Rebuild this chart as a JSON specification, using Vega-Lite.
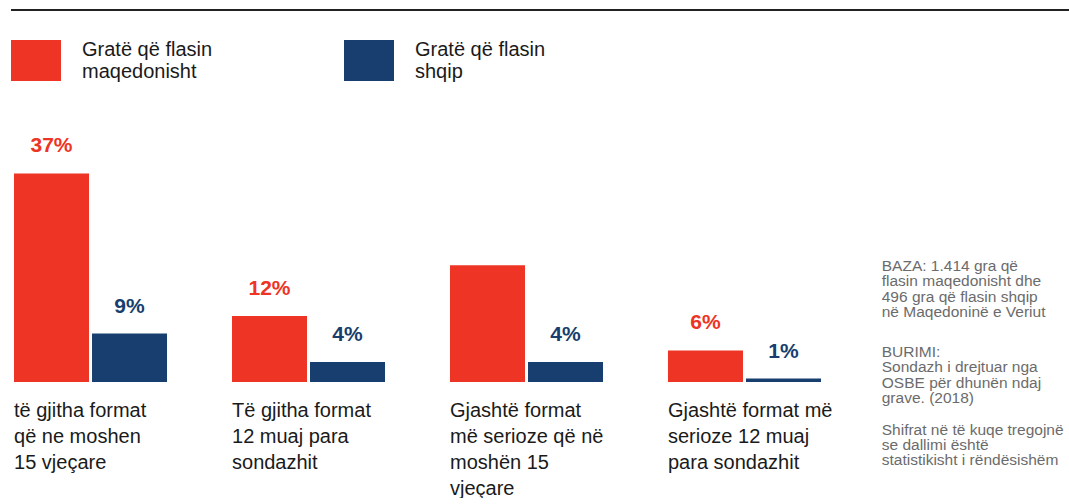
{
  "$schema": "https://vega.github.io/schema/vega-lite/v6.json",
  "width": 1059,
  "height": 372,
  "padding": {"left": 10, "top": 9, "right": 0, "bottom": 0},
  "background": "white",
  "config": {
    "view": {"stroke": null},
    "font": "Liberation Sans"
  },
  "data": {
    "values": [
      {"category": "të gjitha format\nqë ne moshen\n15 vjeçare", "group": "Gratë që flasin\nmaqedonisht", "value": 37, "label": "37%"},
      {"category": "të gjitha format\nqë ne moshen\n15 vjeçare", "group": "Gratë që flasin\nshqip", "value": 8.6, "label": "9%"},
      {"category": "Të gjitha format\n12 muaj para\nsondazhit", "group": "Gratë që flasin\nmaqedonisht", "value": 11.7, "label": "12%"},
      {"category": "Të gjitha format\n12 muaj para\nsondazhit", "group": "Gratë që flasin\nshqip", "value": 3.55, "label": "4%"},
      {"category": "Gjashtë format\nmë serioze që në\nmoshën 15\nvjeçare", "group": "Gratë që flasin\nmaqedonisht", "value": 20.7, "label": ""},
      {"category": "Gjashtë format\nmë serioze që në\nmoshën 15\nvjeçare", "group": "Gratë që flasin\nshqip", "value": 3.55, "label": "4%"},
      {"category": "Gjashtë format më\nserioze 12 muaj\npara sondazhit", "group": "Gratë që flasin\nmaqedonisht", "value": 5.6, "label": "6%"},
      {"category": "Gjashtë format më\nserioze 12 muaj\npara sondazhit", "group": "Gratë që flasin\nshqip", "value": 0.6, "label": "1%"}
    ]
  },
  "layer": [
    {
      "mark": {"type": "bar"},
      "encoding": {
        "x": {
          "field": "category", "type": "nominal", "sort": null,
          "scale": {"paddingInner": 0.298, "paddingOuter": 0.578, "align": 0.0119},
          "axis": {
            "orient": "bottom", "title": null, "domain": false, "ticks": false, "grid": false,
            "labelAngle": 0, "labelAlign": "left", "labelBaseline": "top", "labelOffset": -76.5,
            "labelPadding": 18, "labelFontSize": 20, "labelLineHeight": 26, "labelColor": "#1a1a1a",
            "labelFont": "Liberation Sans",
            "labelExpr": "split(datum.label, '\\n')",
            "labelOverlap": false, "labelBound": false, "labelFlush": false, "labelLimit": 400
          }
        },
        "xOffset": {"field": "group", "type": "nominal", "sort": null, "scale": {"paddingInner": 0.0385}},
        "y": {"field": "value", "type": "quantitative", "scale": {"domain": [0, 66], "nice": false}, "axis": null},
        "color": {
          "field": "group", "type": "nominal", "sort": null,
          "scale": {"range": ["#EE3424", "#173E6E"]},
          "legend": {
            "orient": "none", "legendX": 0, "legendY": 25.5, "direction": "horizontal", "columns": 2,
            "title": null, "padding": 0,
            "symbolType": "M-1,-0.82H1V0.82H-1Z", "symbolSize": 2500, "symbolStrokeWidth": 0, "symbolOpacity": 1,
            "labelOffset": 21, "columnPadding": 131,
            "labelFontSize": 20, "labelLineHeight": 21, "labelBaseline": "line-bottom", "labelColor": "#1a1a1a", "labelFont": "Liberation Sans",
            "labelExpr": "split(datum.label, '\\n')", "labelLimit": 400
          }
        }
      }
    },
    {
      "mark": {"type": "text", "fontSize": 21, "fontWeight": "bold", "dy": -21, "baseline": "alphabetic", "align": "center", "font": "Liberation Sans"},
      "encoding": {
        "x": {"field": "category", "type": "nominal", "sort": null},
        "xOffset": {"field": "group", "type": "nominal", "sort": null},
        "y": {"field": "value", "type": "quantitative"},
        "text": {"field": "label"},
        "color": {"field": "group", "type": "nominal", "sort": null, "legend": null}
      }
    },
    {
      "mark": {"type": "rule", "color": "#222222", "strokeWidth": 2},
      "encoding": {
        "y": {"datum": 66, "type": "quantitative"}
      }
    },
    {
      "data": {"values": [{"note": "BAZA: 1.414  gra që\nflasin  maqedonisht  dhe\n496 gra që flasin  shqip\nnë  Maqedoninë  e Veriut"}]},
      "mark": {"type": "text", "align": "left", "baseline": "alphabetic", "fontSize": 15.5, "lineHeight": 15.3, "color": "#6b6b6b", "lineBreak": "\n", "font": "Liberation Sans"},
      "encoding": {
        "x": {"datum": "Gjashtë format më\nserioze 12 muaj\npara sondazhit", "type": "nominal", "bandPosition": 1.397},
        "y": {"datum": 19.69, "type": "quantitative"},
        "text": {"field": "note"}
      }
    },
    {
      "data": {"values": [{"note": "BURIMI:\nSondazh i  drejtuar nga\nOSBE për dhunën ndaj\ngrave. (2018)"}]},
      "mark": {"type": "text", "align": "left", "baseline": "alphabetic", "fontSize": 15.5, "lineHeight": 15.5, "color": "#6b6b6b", "lineBreak": "\n", "font": "Liberation Sans"},
      "encoding": {
        "x": {"datum": "Gjashtë format më\nserioze 12 muaj\npara sondazhit", "type": "nominal", "bandPosition": 1.397},
        "y": {"datum": 4.49, "type": "quantitative"},
        "text": {"field": "note"}
      }
    },
    {
      "data": {"values": [{"note": "Shifrat në të kuqe tregojnë\nse dallimi është\nstatistikisht i rëndësishëm"}]},
      "mark": {"type": "text", "align": "left", "baseline": "alphabetic", "fontSize": 15.5, "lineHeight": 15, "color": "#6b6b6b", "lineBreak": "\n", "font": "Liberation Sans"},
      "encoding": {
        "x": {"datum": "Gjashtë format më\nserioze 12 muaj\npara sondazhit", "type": "nominal", "bandPosition": 1.397},
        "y": {"datum": -9.4, "type": "quantitative"},
        "text": {"field": "note"}
      }
    }
  ]
}
